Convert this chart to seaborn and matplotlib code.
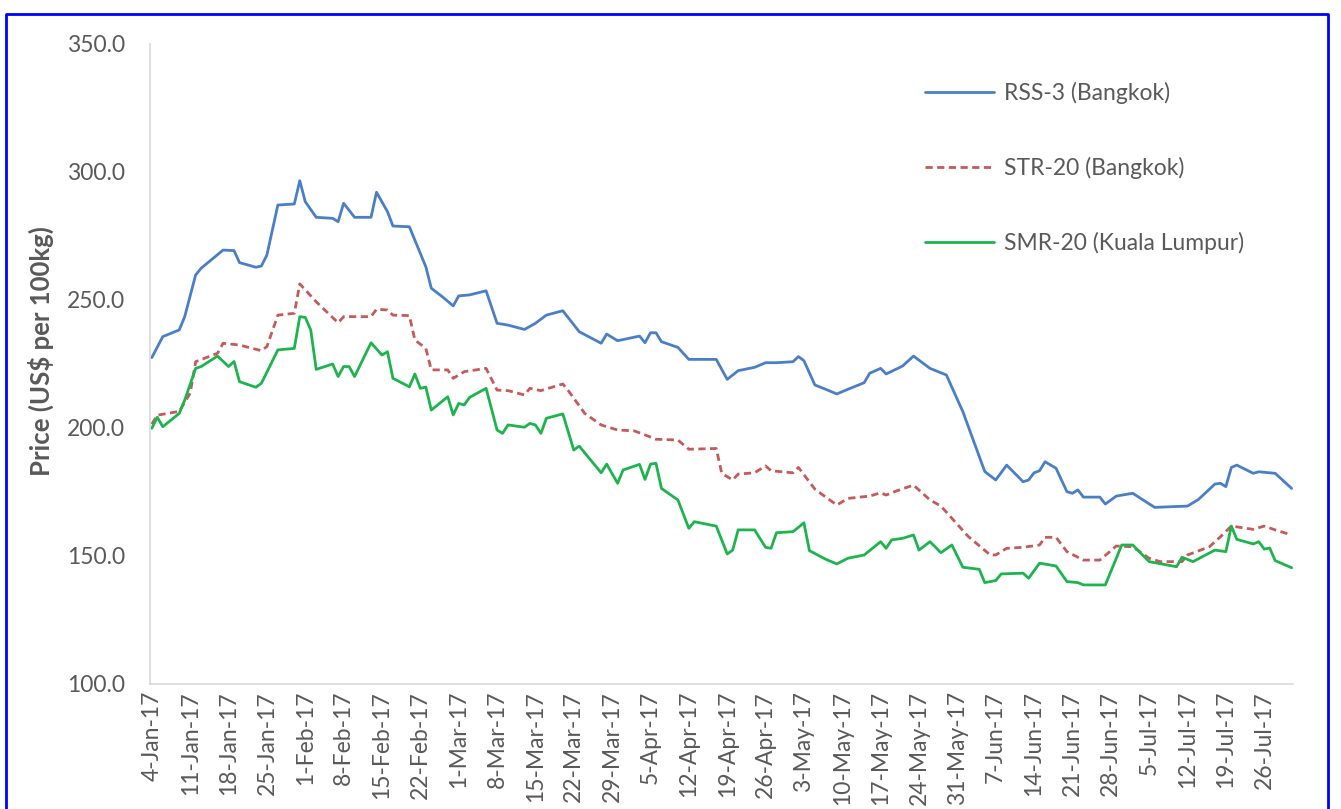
import pandas as pd
import matplotlib.pyplot as plt
from matplotlib.lines import Line2D
import seaborn as sns

# Daily prices (month-day, 2017)
rss_dates = ["01-04", "01-06", "01-09", "01-10", "01-12", "01-13", "01-17", "01-19", "01-20", "01-23",
             "01-24", "01-25", "01-27", "01-30", "01-31", "02-01", "02-03", "02-06", "02-07", "02-08",
             "02-10", "02-13", "02-14", "02-16", "02-17", "02-20", "02-23", "02-24", "02-26", "02-28",
             "03-01", "03-03", "03-06", "03-08", "03-10", "03-13", "03-15", "03-17", "03-20", "03-23",
             "03-27", "03-28", "03-30", "04-03", "04-04", "04-05", "04-06", "04-07", "04-10", "04-12",
             "04-17", "04-19", "04-21", "04-24", "04-26", "04-28", "05-01", "05-02", "05-03", "05-05",
             "05-07", "05-09", "05-11", "05-14", "05-15", "05-17", "05-18", "05-21", "05-23", "05-26",
             "05-29", "06-01", "06-05", "06-07", "06-09", "06-12", "06-13", "06-14", "06-15", "06-16",
             "06-18", "06-20", "06-21", "06-22", "06-23", "06-26", "06-27", "06-29", "07-02", "07-06",
             "07-12", "07-14", "07-17", "07-18", "07-19", "07-20", "07-21", "07-24", "07-25", "07-28",
             "07-31"]
rss_vals = [227.5, 235.7, 238.3, 243.5, 259.8, 262.4, 269.5, 269.3, 264.6, 262.8,
            263.3, 267.6, 287.1, 287.5, 296.6, 288.4, 282.3, 281.9, 280.6, 287.8,
            282.3, 282.3, 292.1, 284.5, 278.9, 278.6, 263.0, 254.6, 251.3, 247.7,
            251.6, 252.0, 253.6, 240.9, 240.2, 238.5, 240.9, 244.1, 245.8, 237.6,
            233.1, 236.7, 234.1, 235.9, 233.3, 237.2, 237.2, 233.7, 231.5, 226.8,
            226.8, 219.0, 222.4, 223.7, 225.5, 225.5, 225.9, 227.9, 226.3, 216.8,
            215.1, 213.3, 215.1, 217.7, 221.4, 223.3, 221.1, 224.2, 228.1, 223.3,
            220.7, 206.4, 183.0, 179.7, 185.5, 179.0, 179.7, 182.5, 183.3, 186.8,
            184.3, 175.1, 174.5, 175.8, 173.0, 173.0, 170.3, 173.4, 174.5, 169.0,
            169.5, 172.1, 178.1, 178.4, 177.1, 184.6, 185.5, 182.3, 182.9, 182.3,
            176.4]

str_dates = ["01-04", "01-05", "01-09", "01-11", "01-12", "01-16", "01-17", "01-20", "01-24", "01-25",
             "01-27", "01-30", "01-31", "02-03", "02-07", "02-08", "02-13", "02-14", "02-16", "02-17",
             "02-20", "02-21", "02-23", "02-24", "02-27", "02-28", "03-02", "03-06", "03-08", "03-10",
             "03-13", "03-14", "03-16", "03-20", "03-21", "03-24", "03-27", "03-30", "04-02", "04-04",
             "04-06", "04-10", "04-12", "04-17", "04-18", "04-20", "04-21", "04-24", "04-26", "04-27",
             "05-01", "05-02", "05-05", "05-09", "05-11", "05-15", "05-17", "05-18", "05-20", "05-23",
             "05-26", "05-28", "06-02", "06-06", "06-07", "06-09", "06-12", "06-15", "06-16", "06-18",
             "06-20", "06-23", "06-26", "06-29", "07-02", "07-05", "07-07", "07-11", "07-12", "07-16",
             "07-18", "07-20", "07-24", "07-26", "07-28", "07-31"]
str_vals = [201.5, 205.0, 206.5, 213.6, 225.9, 229.2, 233.1, 232.4, 230.2, 231.8,
            244.1, 244.8, 256.3, 249.3, 241.1, 243.5, 243.5, 246.4, 246.1, 244.1,
            243.9, 234.4, 231.1, 222.7, 222.7, 219.4, 222.0, 223.3, 214.8, 214.6,
            212.9, 215.5, 214.6, 217.2, 214.6, 205.7, 201.2, 199.2, 198.9, 197.3,
            195.6, 195.3, 191.7, 192.0, 182.3, 179.7, 182.0, 182.5, 185.2, 183.3,
            182.5, 184.6, 176.1, 169.9, 172.5, 173.4, 174.7, 173.8, 175.5, 177.7,
            171.9, 169.5, 157.6, 150.4, 150.4, 153.0, 153.4, 154.3, 157.3, 157.3,
            151.7, 148.4, 148.4, 153.9, 153.6, 149.1, 147.8, 147.8, 150.4, 153.6,
            157.5, 161.7, 160.4, 161.7, 160.2, 158.2]

smr_dates = ["01-04", "01-05", "01-06", "01-09", "01-10", "01-12", "01-13", "01-16", "01-18", "01-19",
             "01-20", "01-23", "01-24", "01-27", "01-30", "01-31", "02-01", "02-02", "02-03", "02-06",
             "02-07", "02-08", "02-09", "02-10", "02-13", "02-15", "02-16", "02-17", "02-20", "02-21",
             "02-22", "02-23", "02-24", "02-27", "02-28", "03-01", "03-02", "03-03", "03-06", "03-08",
             "03-09", "03-10", "03-13", "03-14", "03-15", "03-16", "03-17", "03-20", "03-22", "03-23",
             "03-27", "03-28", "03-30", "03-31", "04-03", "04-04", "04-05", "04-06", "04-07", "04-10",
             "04-12", "04-13", "04-16", "04-17", "04-19", "04-20", "04-21", "04-24", "04-26", "04-27",
             "04-28", "05-01", "05-02", "05-03", "05-04", "05-07", "05-09", "05-11", "05-14", "05-17",
             "05-18", "05-19", "05-21", "05-23", "05-24", "05-26", "05-28", "05-30", "06-01", "06-04",
             "06-05", "06-07", "06-08", "06-12", "06-13", "06-15", "06-18", "06-20", "06-22", "06-23",
             "06-27", "06-30", "07-02", "07-05", "07-10", "07-11", "07-13", "07-17", "07-19", "07-20",
             "07-21", "07-24", "07-25", "07-26", "07-27", "07-28", "07-31"]
smr_vals = [199.9, 204.2, 200.5, 205.7, 210.9, 223.3, 224.0, 228.1, 224.0, 226.0,
            218.1, 215.9, 217.5, 230.5, 231.1, 243.5, 243.2, 238.3, 222.9, 225.0,
            220.1, 224.0, 224.0, 220.1, 233.3, 228.5, 229.8, 219.4, 216.1, 221.1,
            215.5, 216.0, 207.0, 212.2, 205.1, 209.6, 209.0, 212.0, 215.5, 199.2,
            197.9, 201.2, 200.3, 201.8, 201.2, 197.9, 203.8, 205.5, 191.4, 192.9,
            182.5, 185.9, 178.4, 183.6, 185.8, 179.9, 185.9, 186.2, 176.4, 171.9,
            160.8, 163.4, 162.1, 161.7, 150.8, 152.3, 160.2, 160.2, 153.4, 153.0,
            159.1, 159.5, 161.2, 163.0, 152.1, 148.7, 146.9, 149.1, 150.4, 155.6,
            153.0, 156.3, 156.9, 158.2, 152.3, 155.6, 151.3, 154.3, 145.6, 144.8,
            139.6, 140.4, 143.0, 143.3, 141.3, 147.2, 146.1, 140.0, 139.6, 138.7,
            138.7, 154.3, 154.3, 147.8, 145.8, 149.5, 147.8, 152.3, 151.7, 161.7,
            156.5, 154.7, 155.6, 152.7, 153.1, 148.2, 145.4]

series_names = ["RSS-3 (Bangkok)", "STR-20 (Bangkok)", "SMR-20 (Kuala Lumpur)"]
y_ticks = [100, 150, 200, 250, 300, 350]

frames = []
for name, dates, vals in zip(series_names, [rss_dates, str_dates, smr_dates],
                             [rss_vals, str_vals, smr_vals]):
    frames.append(pd.DataFrame({"date": pd.to_datetime(["2017-" + d for d in dates]),
                                "price": vals, "series": name}))
df = pd.concat(frames, ignore_index=True)

sns.set_style("white")
plt.rcParams["font.family"] = ["Lato", "DejaVu Sans"]

grey = "#595959"
fig = plt.figure(figsize=(13.41, 8.09), dpi=100)
ax = fig.add_axes([150 / 1341, 125 / 809, 1143 / 1341, 640 / 809])

palette = {series_names[0]: "#4A7EC6", series_names[1]: "#C55A5A", series_names[2]: "#1DB44E"}
dashes = {series_names[0]: "", series_names[1]: (2.6, 1.6), series_names[2]: ""}
sns.lineplot(data=df, x="date", y="price", hue="series", style="series",
             palette=palette, dashes=dashes, estimator=None, linewidth=2.0, ax=ax)

ax.set_ylim(100, 350)
ax.set_yticks(y_ticks)
ax.set_yticklabels([f"{v:.1f}" for v in y_ticks], color=grey, fontsize=16.5)
ax.set_xlim(pd.Timestamp("2017-01-03 16:00"), pd.Timestamp("2017-07-31 06:00"))
ticks = pd.date_range("2017-01-04", "2017-07-26", freq="7D")
ax.set_xticks(ticks)
ax.set_xticklabels([f"{t.day}-{t.strftime('%b-%y')}" for t in ticks],
                   rotation=90, color=grey, fontsize=16.5)
ax.tick_params(axis="both", length=0)
ax.tick_params(axis="y", pad=18)
ax.tick_params(axis="x", pad=5)

ax.set_xlabel("")
ax.set_ylabel("Price (US$ per 100kg)", color=grey, fontsize=18.5, fontweight="bold")
ax.yaxis.set_label_coords(-0.084, 0.52)

for side in ["top", "right"]:
    ax.spines[side].set_visible(False)
for side in ["left", "bottom"]:
    ax.spines[side].set_color("#d9d9d9")
    ax.spines[side].set_linewidth(1.2)

leg = ax.legend(loc="upper left", bbox_to_anchor=(0.678, 0.94), frameon=False,
                fontsize=16.5, labelspacing=2.3, handlelength=3.0, handletextpad=0.45,
                borderpad=0, borderaxespad=0)
for txt in leg.get_texts():
    txt.set_color(grey)

# blue frame around the picture
W, H = 1341, 809
frame_pts = [(6 / W, 0), (6 / W, 1 - 14 / H), (1328 / W, 1 - 14 / H), (1328 / W, 0)]
fig.add_artist(Line2D([p[0] for p in frame_pts], [p[1] for p in frame_pts],
                      transform=fig.transFigure, color="#0000FF", linewidth=2))

fig.savefig("out.png", dpi=100)
